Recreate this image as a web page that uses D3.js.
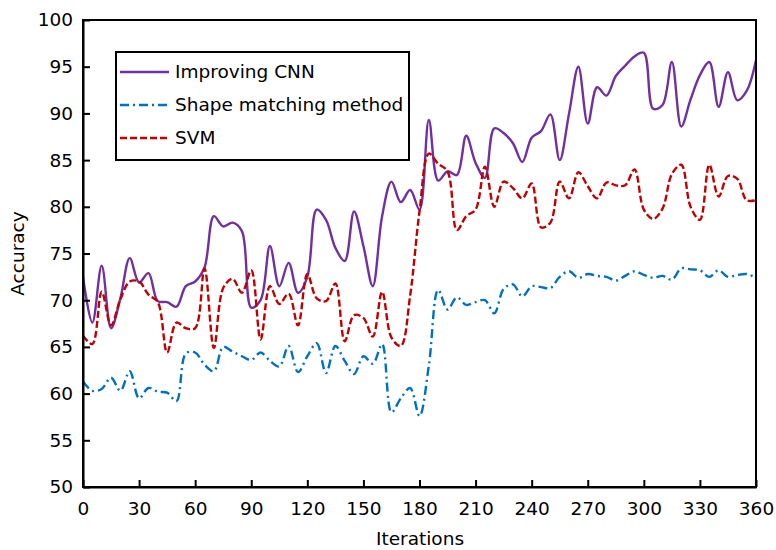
<!DOCTYPE html>
<html>
<head>
<meta charset="utf-8">
<script src="https://cdn.jsdelivr.net/npm/d3@7"></script>
<style>
  html, body { margin: 0; padding: 0; background: #fff; }
  svg { display: block; }
  text { font-family: "DejaVu Sans", Verdana, sans-serif; fill: #000; }
</style>
</head>
<body>
<svg id="chart" width="776" height="550"></svg>
<script>
// Iterations sampled every 5
const iterations = d3.range(0, 361, 5);

const improvingCNN = [
  72.5, 67.6, 73.7, 67.0, 70.2, 74.5, 71.9, 72.9, 69.9, 69.8,
  69.3, 71.5, 72.0, 73.5, 79.0, 77.9, 78.3, 77.4, 69.2, 70.0,
  75.8, 71.5, 74.0, 70.8, 72.5, 79.7, 78.6, 75.6, 74.2, 79.5,
  75.8, 71.5, 79.0, 82.7, 80.5, 81.8, 79.7, 89.3, 82.8, 83.8,
  83.4, 87.6, 84.7, 83.1, 88.4, 87.9, 86.8, 84.8, 87.4, 88.1,
  89.9, 85.0, 90.0, 95.0, 88.9, 92.8, 91.9, 94.0, 95.1, 96.1,
  96.5, 90.5, 90.9, 95.5, 88.6, 91.5, 94.1, 95.5, 90.7, 94.4,
  91.4, 92.4, 95.7
];

const shapeMatching = [
  61.3, 60.3, 60.5, 61.7, 60.3, 62.4, 59.5, 60.6, 60.2, 60.1,
  59.2, 64.3, 64.4, 63.1, 62.4, 65.0, 64.5, 64.0, 63.6, 64.4,
  63.5, 62.9, 65.1, 62.3, 64.0, 65.4, 62.2, 65.1, 63.5, 62.1,
  64.0, 63.2, 65.3, 58.0, 59.5, 60.6, 57.6, 63.0, 71.1, 69.0,
  70.3, 69.5, 69.8, 70.0, 68.6, 71.2, 71.7, 70.4, 71.5, 71.4,
  71.3, 72.5, 73.1, 72.4, 72.8, 72.6, 72.5, 72.1, 72.6, 73.1,
  72.7, 72.4, 72.6, 72.2, 73.4, 73.3, 73.2, 72.5, 73.2, 72.5,
  72.7, 72.8, 72.4
];

const svm = [
  66.2, 65.3, 70.9, 67.3, 70.1, 72.0, 72.0, 70.6, 69.8, 64.4,
  67.6, 67.0, 67.0, 73.4, 64.9, 71.3, 72.3, 70.8, 73.2, 65.8,
  71.5, 69.6, 70.7, 67.3, 72.8, 70.2, 69.9, 71.8, 65.6, 68.4,
  68.1, 66.1, 70.9, 66.0, 65.1, 70.5, 79.5, 85.7, 84.6, 83.8,
  77.5, 79.0, 79.7, 84.3, 80.0, 82.7, 82.0, 80.9, 82.5, 77.8,
  78.3, 82.7, 80.9, 83.7, 82.2, 80.9, 82.6, 82.3, 82.3, 84.0,
  79.7, 78.7, 79.8, 83.5, 84.5, 80.0, 78.6, 84.5, 81.1, 83.3,
  83.0, 80.7, 80.7
];

const xTicks = d3.range(0, 361, 30);
const yTicks = d3.range(50, 101, 5);
const seriesNames = ["Improving CNN", "Shape matching method", "SVM"];

const series = [
  { name: seriesNames[0], values: improvingCNN, color: "#7030A0", dash: null },
  { name: seriesNames[1], values: shapeMatching, color: "#0070C0", dash: "9,4,2,4" },
  { name: seriesNames[2], values: svm, color: "#C00000", dash: "7,3" }
];

const FS = 18.5;
const svg = d3.select("#chart");
const pL = 83, pR = 756, pT = 20, pB = 487;

const x = d3.scaleLinear().domain([0, 360]).range([pL, pR]);
const y = d3.scaleLinear().domain([50, 100]).range([pB, pT]);

const line = d3.line()
  .x((d, i) => x(iterations[i]))
  .y(d => y(d))
  .curve(d3.curveCatmullRom.alpha(0.5));

svg.append("clipPath").attr("id", "clip")
  .append("rect").attr("x", pL).attr("y", pT)
  .attr("width", pR - pL).attr("height", pB - pT);

const g = svg.append("g").attr("clip-path", "url(#clip)");
series.forEach(s => {
  g.append("path")
    .datum(s.values)
    .attr("d", line)
    .attr("fill", "none")
    .attr("stroke", s.color)
    .attr("stroke-width", 2.4)
    .attr("stroke-dasharray", s.dash);
});

// frame
svg.append("rect")
  .attr("x", pL).attr("y", pT)
  .attr("width", pR - pL).attr("height", pB - pT)
  .attr("fill", "none").attr("stroke", "#000").attr("stroke-width", 2);

// axes (ticks inward)
const xAxis = d3.axisBottom(x).tickValues(xTicks).tickSizeInner(-7).tickSizeOuter(0).tickPadding(15);
const yAxis = d3.axisLeft(y).tickValues(yTicks).tickSizeInner(-7).tickSizeOuter(0).tickPadding(10);

const gx = svg.append("g").attr("transform", `translate(0,${pB})`).call(xAxis);
const gy = svg.append("g").attr("transform", `translate(${pL},0)`).call(yAxis);
[gx, gy].forEach(a => {
  a.select(".domain").attr("stroke", "#000").attr("stroke-width", 2);
  a.selectAll(".tick line").attr("stroke", "#000").attr("stroke-width", 2);
  a.selectAll(".tick text").attr("font-size", FS).attr("fill", "#000")
    .attr("font-family", "DejaVu Sans, Verdana, sans-serif");
});

svg.append("text")
  .attr("x", 420).attr("y", 545)
  .attr("text-anchor", "middle").attr("font-size", FS)
  .text("Iterations");

svg.append("text")
  .attr("transform", `translate(24,${(pT + pB) / 2 + 0}) rotate(-90)`)
  .attr("text-anchor", "middle").attr("font-size", FS)
  .text("Accuracy");

// legend
const lg = svg.append("g");
lg.append("rect")
  .attr("x", 116).attr("y", 52).attr("width", 293).attr("height", 108)
  .attr("fill", "#fff").attr("stroke", "#000").attr("stroke-width", 2);
const legendY = [72, 105, 138];
series.forEach((s, i) => {
  lg.append("line")
    .attr("x1", 120).attr("x2", 169)
    .attr("y1", legendY[i]).attr("y2", legendY[i])
    .attr("stroke", s.color).attr("stroke-width", 2.4)
    .attr("stroke-dasharray", s.dash);
  lg.append("text")
    .attr("x", 175).attr("y", legendY[i])
    .attr("dy", "0.35em").attr("font-size", FS)
    .text(s.name);
});
</script>
</body>
</html>
